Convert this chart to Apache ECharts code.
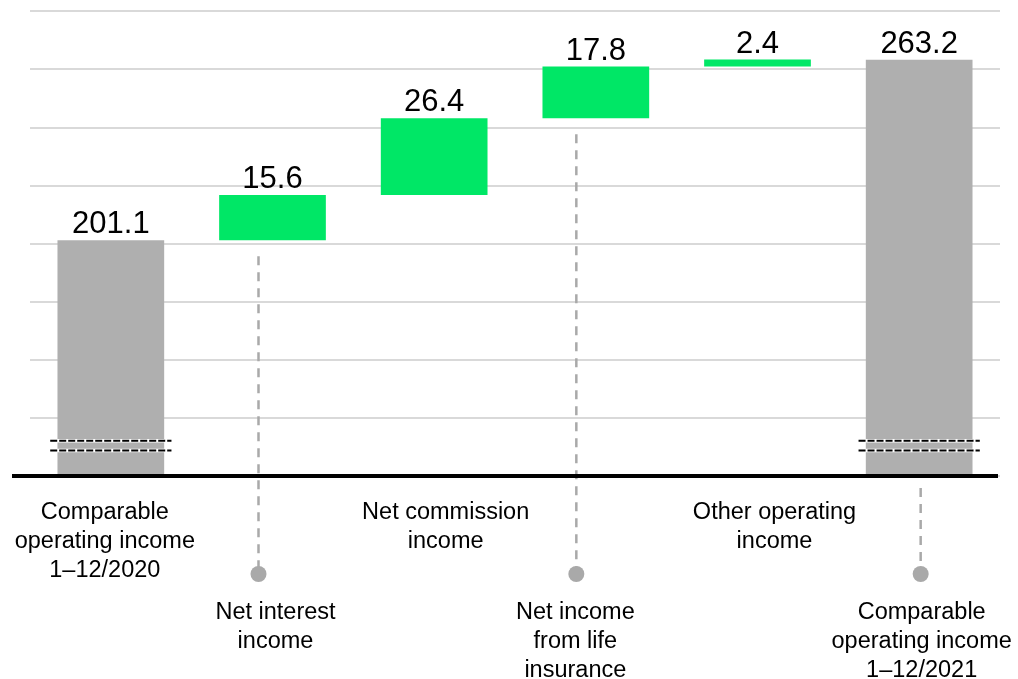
<!DOCTYPE html>
<html>
<head>
<meta charset="utf-8">
<script src="https://cdn.jsdelivr.net/npm/echarts@6/dist/echarts.min.js"></script>
<style>
  html, body { margin: 0; padding: 0; background: #fff; }
  #chart { width: 1018px; height: 679px; }
</style>
</head>
<body>
<div id="chart"></div>
<script>
// Operating income bridge, EUR million
const categories = [
  'Comparable\noperating income\n1–12/2020',
  'Net interest\nincome',
  'Net commission\nincome',
  'Net income\nfrom life\ninsurance',
  'Other operating\nincome',
  'Comparable\noperating income\n1–12/2021'
];
const values = [201.1, 15.6, 26.4, 17.8, 2.4, 263.2];
const isTotal = [true, false, false, false, false, true];
const yTicks = [120, 140, 160, 180, 200, 220, 240, 260, 280];
const axisBreak = [128.8, 132.1];

// Layout helpers (label placement and connector offsets)
const lowLabel = [false, true, false, true, false, true];
const labelShift = [-6, 3, 11.5, -20.5, 17, 2.5];
const connectorShift = [0, -14, 0, -19.5, 0, 1.5];

const FONT = "'Liberation Sans', Arial, sans-serif";
const GREY = '#afafaf';
const GREEN = '#00e766';
const CONNECTOR = '#a9a9a9';
const Y_MIN = yTicks[0];
const Y_MAX = yTicks[yTicks.length - 1];
const Y_STEP = yTicks[1] - yTicks[0];

// Floating base of each step bar = running total before it
const base = [];
let running = 0;
values.forEach((v, i) => {
  if (isTotal[i]) { base.push(0); running = v; }
  else { base.push(running); running += v; }
});

const axisData = categories.map((c, i) => {
  const s = labelShift[i];
  return {
    value: c,
    textStyle: {
      padding: [lowLabel[i] ? 100 : 0, s < 0 ? -2 * s : 0, 0, s > 0 ? 2 * s : 0]
    }
  };
});

const connectorData = [];
lowLabel.forEach((low, i) => {
  if (low) connectorData.push([i, Math.max(base[i], Y_MIN)]);
});

const breakData = [];
isTotal.forEach((t, i) => { if (t) breakData.push([i, axisBreak[0]]); });

const chart = echarts.init(document.getElementById('chart'));

chart.setOption({
  animation: false,
  backgroundColor: '#fff',
  grid: {
    left: 30, right: 18, top: 11, bottom: 203,
    containLabel: false,
    outerBoundsMode: 'none'
  },
  xAxis: {
    type: 'category',
    data: axisData,
    axisLine: { show: false },
    axisTick: { show: false },
    splitLine: { show: false },
    axisLabel: {
      interval: 0,
      margin: 22,
      color: '#000',
      fontFamily: FONT,
      fontSize: 23.5,
      lineHeight: 29
    }
  },
  yAxis: {
    type: 'value',
    min: Y_MIN,
    max: Y_MAX,
    interval: Y_STEP,
    axisLine: { show: false },
    axisTick: { show: false },
    axisLabel: { show: false },
    splitLine: { lineStyle: { color: '#d9d9d9', width: 2 } }
  },
  series: [
    {
      name: 'base',
      type: 'bar',
      stack: 'bridge',
      barWidth: '66%',
      clip: true,
      silent: true,
      itemStyle: { color: 'transparent' },
      data: base,
      z: 2
    },
    {
      name: 'value',
      type: 'bar',
      stack: 'bridge',
      barWidth: '66%',
      clip: true,
      data: values.map((v, i) => ({
        value: v,
        itemStyle: { color: isTotal[i] ? GREY : GREEN }
      })),
      label: {
        show: true,
        position: 'top',
        distance: 0,
        color: '#000',
        fontFamily: FONT,
        fontSize: 31,
        formatter: p => p.value.toFixed(1)
      },
      z: 2
    },
    {
      name: 'axis break',
      type: 'custom',
      clip: false,
      silent: true,
      z: 4,
      data: breakData,
      encode: { x: 0, y: 1 },
      renderItem(params, api) {
        const i = api.value(0);
        const w = api.size([1, 0])[0] * 0.75;
        const children = [];
        axisBreak.forEach(v => {
          const p = api.coord([i, v]);
          const shape = { x1: p[0] - w / 2, y1: p[1], x2: p[0] + w / 2, y2: p[1] };
          children.push({ type: 'line', shape, style: { stroke: '#fff', lineWidth: 3.5 } });
          children.push({ type: 'line', shape, style: { stroke: '#000', lineWidth: 2, lineDash: [7, 2] } });
        });
        return { type: 'group', children };
      }
    },
    {
      name: 'baseline',
      type: 'custom',
      clip: false,
      silent: true,
      z: 5,
      data: [[0, Y_MIN]],
      encode: { x: 0, y: 1 },
      renderItem(params, api) {
        const cs = params.coordSys;
        const y = api.coord([0, Y_MIN])[1];
        return {
          type: 'line',
          shape: { x1: cs.x - 18, y1: y, x2: cs.x + cs.width - 2, y2: y },
          style: { stroke: '#000', lineWidth: 4 }
        };
      }
    },
    {
      name: 'connectors',
      type: 'custom',
      clip: false,
      silent: true,
      z: 3,
      data: connectorData,
      encode: { x: 0, y: 1 },
      renderItem(params, api) {
        const i = api.value(0);
        const p = api.coord([i, api.value(1)]);
        const yAxisBottom = api.coord([i, Y_MIN])[1];
        const x = p[0] + connectorShift[i];
        const yDot = yAxisBottom + 98;
        const gap = api.value(1) > Y_MIN ? 16 : 12;
        return {
          type: 'group',
          children: [
            {
              type: 'line',
              shape: { x1: x, y1: p[1] + gap, x2: x, y2: yDot },
              style: { stroke: CONNECTOR, lineWidth: 2.5, lineDash: [9, 7] }
            },
            {
              type: 'circle',
              shape: { cx: x, cy: yDot, r: 8 },
              style: { fill: CONNECTOR }
            }
          ]
        };
      }
    }
  ]
});
</script>
</body>
</html>
